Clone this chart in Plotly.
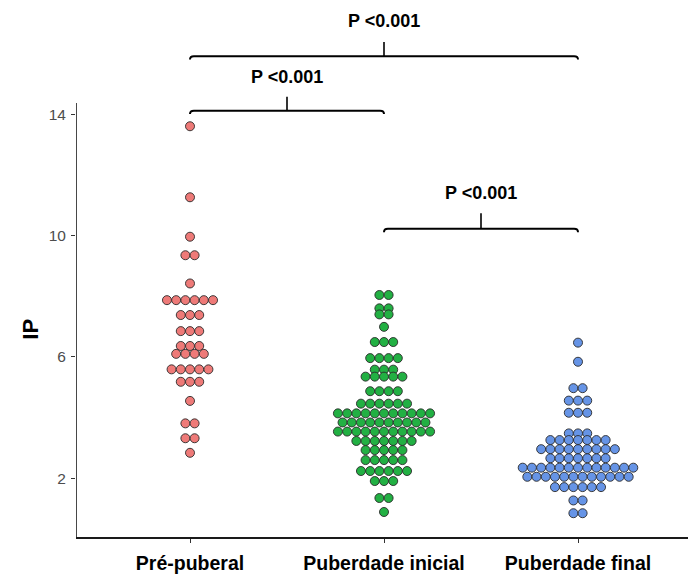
import plotly.graph_objects as go

# Groups shown on the x axis
categories = ["Pré-puberal", "Puberdade inicial", "Puberdade final"]

# IP values per group, stored as (value, count) bins of the dot plot
pre_values = [13.6, 11.26, 9.96, 9.35, 8.42, 7.87, 7.38, 6.85, 6.36, 6.10, 5.59, 5.18, 4.55, 3.81, 3.32, 2.84]
pre_counts = [1, 1, 1, 2, 1, 6, 3, 3, 3, 4, 5, 3, 1, 2, 2, 1]

ini_values = [8.04, 7.60, 7.40, 6.99, 6.49, 5.96, 5.58, 5.35, 4.87, 4.46, 4.14, 3.84, 3.54, 3.23, 2.93, 2.60, 2.24, 1.91, 1.35, 0.89]
ini_counts = [2, 2, 2, 1, 3, 4, 3, 5, 4, 6, 11, 10, 11, 7, 5, 5, 6, 3, 2, 1]

fin_values = [6.47, 5.84, 4.97, 4.56, 4.16, 3.48, 3.26, 2.96, 2.66, 2.35, 2.05, 1.71, 1.27, 0.85]
fin_counts = [1, 1, 2, 3, 3, 3, 7, 9, 7, 13, 12, 6, 2, 2]

# Pairwise comparisons: (group a, group b, label)
comparisons = [(1, 3, "P <0.001"), (1, 2, "P <0.001"), (2, 3, "P <0.001")]

y_ticks = [2, 6, 10, 14]

fills = ["#EE7A78", "#22B043", "#6694E6"]
dot_step = 0.0475  # horizontal spacing between stacked dots, in x units

groups = [(pre_values, pre_counts), (ini_values, ini_counts), (fin_values, fin_counts)]

fig = go.Figure()
for gi, (vals, cnts) in enumerate(groups):
    xs, ys = [], []
    centre = gi + 1
    for v, n in zip(vals, cnts):
        for k in range(n):
            xs.append(centre + (k - (n - 1) / 2) * dot_step)
            ys.append(v)
    fig.add_trace(go.Scatter(
        x=xs, y=ys, mode="markers", showlegend=False,
        marker=dict(size=9, color=fills[gi], line=dict(color="#2a2a2a", width=0.9)),
        cliponaxis=False,
    ))

# Significance brackets: bar height, tip drop, centre tick top, label height
bracket_levels = [(15.91, 0.11, 16.38, 17.08), (14.11, 0.11, 14.57, 15.23), (10.22, 0.11, 10.73, 11.41)]
shapes = []
annotations = []
for (a, b, label), (yb, tip, ytop, ylab) in zip(comparisons, bracket_levels):
    mid = (a + b) / 2
    path = (f"M {a},{yb - tip} Q {a},{yb} {a + 0.02},{yb} L {b - 0.02},{yb} Q {b},{yb} {b},{yb - tip}")
    shapes.append(dict(type="path", xref="x", yref="y", path=path,
                       line=dict(color="black", width=2)))
    shapes.append(dict(type="line", xref="x", yref="y", x0=mid, x1=mid, y0=yb, y1=ytop,
                       line=dict(color="black", width=1.6)))
    annotations.append(dict(x=mid, y=ylab, xref="x", yref="y", text=label, showarrow=False,
                            font=dict(family="Liberation Sans", size=18, color="black", weight="bold")))

# y axis line restricted to the panel height
y_lo, y_panel_top = 0.066, 14.37
x_lo, x_hi = 0.4124, 3.567
shapes.append(dict(type="line", xref="x", yref="y", x0=x_lo, x1=x_lo, y0=y_lo, y1=y_panel_top,
                   line=dict(color="#1a1a1a", width=1.6)))

annotations.append(dict(x=-0.075, y=6.9, xref="paper", yref="y", text="IP", showarrow=False,
                        textangle=-90, xanchor="center", yanchor="middle",
                        font=dict(family="Liberation Sans", size=22, color="black", weight="bold")))

fig.update_layout(
    width=688, height=582,
    margin=dict(l=76, r=0, t=0, b=45),
    paper_bgcolor="white", plot_bgcolor="white",
    shapes=shapes, annotations=annotations,
    xaxis=dict(range=[x_lo, x_hi], tickvals=[1, 2, 3], ticktext=categories,
               showgrid=False, zeroline=False, showline=True, linecolor="#1a1a1a", linewidth=1.6,
               ticks="outside", ticklen=4, tickcolor="#333", tickwidth=1.2, ticklabelstandoff=4,
               tickfont=dict(family="Liberation Sans", size=19.5, color="black", weight="bold")),
    yaxis=dict(range=[y_lo, 17.76], tickvals=y_ticks, showgrid=False, zeroline=False,
               showline=False, ticks="outside", ticklen=4, tickcolor="#333", tickwidth=1.2,
               ticklabelstandoff=2,
               tickfont=dict(family="Liberation Sans", size=15.5, color="#4d4d4d")),
)

fig.write_html("out.html")
